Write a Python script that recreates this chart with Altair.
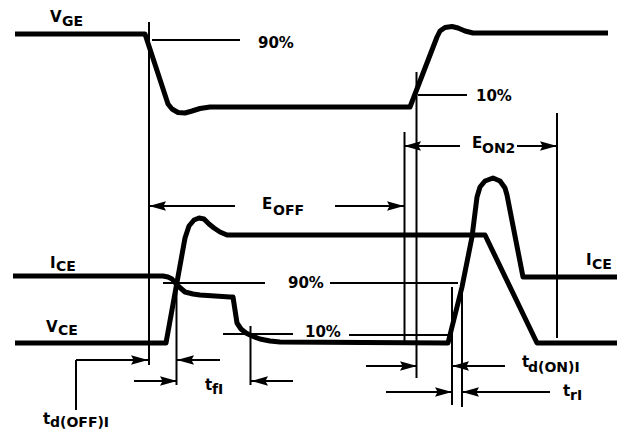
import altair as alt
import pandas as pd

# ---------------- waveform traces (time position, level position) ----------------
vge_t = [15, 145, 168, 172, 178, 185, 192, 200, 210, 410, 437, 440, 445, 452, 458, 465, 473, 608]
vge_v = [34, 34, 104, 109, 112.5, 113, 111, 108.5, 107, 107, 37, 31, 27.5, 26.5, 28, 31, 33, 33]

vce_t = [15, 166, 185, 189, 194, 199, 204, 209, 214, 220, 227, 485, 537, 622]
vce_v = [343, 343, 238, 226, 220, 218, 219, 224, 228, 232, 235, 235, 343, 343]

ice_t = [13, 163, 168, 172, 177, 185, 193, 200, 230, 233, 237, 241, 246, 252, 260, 270, 280,
         448, 462, 472, 477, 480, 485, 493, 500, 505, 507, 523, 624]
ice_v = [276, 276, 277, 279, 285, 292, 294, 295, 297, 297, 323, 329, 333, 336, 339, 341, 342,
         343, 287, 237, 197, 187, 181, 178, 181, 188, 195, 277, 277]

# ---------------- vertical timing markers ----------------
mark_x = [149, 176.5, 250.5, 404.5, 416.5, 452, 462, 557]
mark_top = [22, 283, 326, 132, 72, 287, 283, 113]
mark_bottom = [365, 385, 385, 342, 378, 405, 407, 338]

# ---------------- threshold (90% / 10%) lines ----------------
lvl_x1 = [152, 418, 163, 330, 223, 349]
lvl_x2 = [240, 467, 265, 458, 293, 448]
lvl_y = [40, 95, 283, 283, 334, 335]

# ---------------- dimension arrows ----------------
shaft_x1 = [149, 335, 404, 517, 76, 76, 177, 134, 251, 366, 452, 386, 462]
shaft_x2 = [235, 404, 460, 557, 76, 148, 220, 177, 293, 417, 505, 452, 550]
shaft_y1 = [206, 206, 146, 146, 410, 360, 360, 381, 381, 366, 366, 392, 392]
shaft_y2 = [206, 206, 146, 146, 360, 360, 360, 381, 381, 366, 366, 392, 392]

head_x = [149, 404, 404, 557, 148, 177, 177, 251, 417, 452, 452, 462]
head_y = [206, 206, 146, 146, 360, 360, 381, 381, 366, 366, 392, 392]
head_dir = ["left", "right", "left", "right", "right", "left", "right", "left",
            "right", "left", "right", "left"]

# ---------------- labels ----------------
main_txt = ["V", "90%", "10%", "E", "E", "I", "V", "I", "90%", "10%", "t", "t", "t", "t"]
main_x = [50, 258, 476, 262, 472, 50, 46, 586, 288, 305, 205, 43, 522, 563]
main_y = [22, 48, 101, 209, 148, 268, 332, 265, 288, 337, 390, 424, 367, 396]

sub_txt = ["GE", "OFF", "ON2", "CE", "CE", "CE", "fI", "d(OFF)I", "d(ON)I", "rI"]
sub_x = [62, 273, 482, 56, 58, 592, 212, 50, 528, 570]
sub_y = [26, 215, 153, 271, 335, 269, 394, 427, 372, 400]

# ---------------- build tables ----------------
rows = []
for name, ts, vs in [("VGE", vge_t, vge_v), ("VCE", vce_t, vce_v), ("ICE", ice_t, ice_v)]:
    for i, (t, v) in enumerate(zip(ts, vs)):
        rows.append({"trace": name, "t": t, "v": v, "k": i})
wave_df = pd.DataFrame(rows)

vert_df = pd.DataFrame({"x": mark_x, "y1": mark_top, "y2": mark_bottom})
lvl_df = pd.DataFrame({"x1": lvl_x1, "x2": lvl_x2, "y": lvl_y})
shaft_df = pd.DataFrame({"x1": shaft_x1, "x2": shaft_x2, "y1": shaft_y1, "y2": shaft_y2})
head_df = pd.DataFrame({"x": head_x, "y": head_y, "dir": head_dir})
main_df = pd.DataFrame({"x": main_x, "y": main_y, "txt": main_txt})
sub_df = pd.DataFrame({"x": sub_x, "y": sub_y, "txt": sub_txt})

X = alt.Scale(domain=[8, 617], nice=False, zero=False)
Y = alt.Scale(domain=[8, 430], nice=False, zero=False, reverse=True)

RIGHT = "M0,0 L-2,-0.55 L-1.7,0 L-2,0.55 Z"
LEFT = "M0,0 L2,-0.55 L1.7,0 L2,0.55 Z"

wave = alt.Chart(wave_df).mark_line(
    color="black", strokeWidth=5, strokeJoin="round", strokeCap="butt"
).encode(
    x=alt.X("t:Q", scale=X, axis=None),
    y=alt.Y("v:Q", scale=Y, axis=None),
    detail="trace:N",
    order="k:Q",
)

vert = alt.Chart(vert_df).mark_rule(color="black", strokeWidth=2).encode(
    x=alt.X("x:Q", scale=X, axis=None),
    y=alt.Y("y1:Q", scale=Y, axis=None),
    y2="y2:Q",
)

lvl = alt.Chart(lvl_df).mark_rule(color="black", strokeWidth=1.8).encode(
    x=alt.X("x1:Q", scale=X, axis=None),
    x2="x2:Q",
    y=alt.Y("y:Q", scale=Y, axis=None),
)

shaft = alt.Chart(shaft_df).mark_rule(color="black", strokeWidth=2).encode(
    x=alt.X("x1:Q", scale=X, axis=None),
    x2="x2:Q",
    y=alt.Y("y1:Q", scale=Y, axis=None),
    y2="y2:Q",
)

heads = alt.Chart(head_df).mark_point(
    filled=True, color="black", opacity=1, strokeWidth=0, size=289
).encode(
    x=alt.X("x:Q", scale=X, axis=None),
    y=alt.Y("y:Q", scale=Y, axis=None),
    shape=alt.Shape("dir:N", scale=alt.Scale(domain=["left", "right"], range=[LEFT, RIGHT]), legend=None),
)

main_lbl = alt.Chart(main_df).mark_text(
    align="left", baseline="alphabetic", font="DejaVu Sans", fontWeight="bold", fontSize=15, color="black"
).encode(
    x=alt.X("x:Q", scale=X, axis=None),
    y=alt.Y("y:Q", scale=Y, axis=None),
    text="txt:N",
)

sub_lbl = alt.Chart(sub_df).mark_text(
    align="left", baseline="alphabetic", font="DejaVu Sans", fontWeight="bold", fontSize=14, color="black"
).encode(
    x=alt.X("x:Q", scale=X, axis=None),
    y=alt.Y("y:Q", scale=Y, axis=None),
    text="txt:N",
)

chart = alt.layer(wave, vert, lvl, shaft, heads, main_lbl, sub_lbl).properties(
    width=609, height=422, padding=0, autosize="none", background="white"
).configure_view(stroke=None)

chart.save("out.html", embed_options={"renderer": "svg", "actions": False})
